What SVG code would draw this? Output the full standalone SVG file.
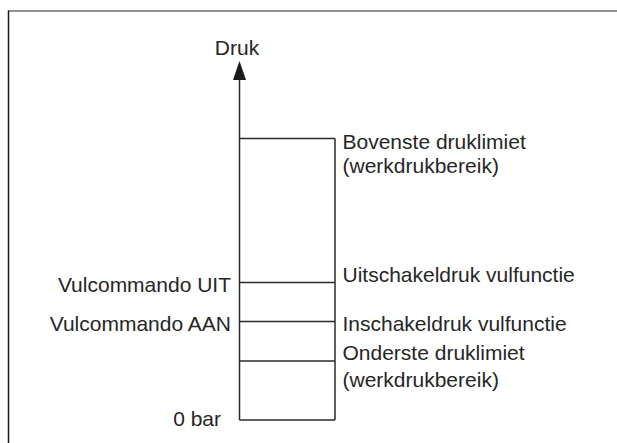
<svg xmlns="http://www.w3.org/2000/svg" width="617" height="443" viewBox="0 0 617 443">
<style>
.t{font-family:"Liberation Sans",Arial,sans-serif;font-size:21px;fill:#262626}
.ln{stroke:#2a2a2a;stroke-width:1.5;fill:none}
</style>
<defs>
<marker id="ah" markerWidth="13" markerHeight="19" refX="6.5" refY="0" orient="auto" markerUnits="userSpaceOnUse" viewBox="0 0 13 19">
<path d="M6.5,0 L13,19 L0,19 Z" fill="#1a1a1a"/>
</marker>
</defs>
<rect width="617" height="443" fill="#fff"/>
<g id="frame">
<line x1="8" y1="11" x2="617" y2="11" stroke="#6e6e6e" stroke-width="1.5"/>
<line x1="8.5" y1="10.5" x2="8.5" y2="443" stroke="#1a1a1a" stroke-width="1.5"/>
</g>
<g id="connectors">
<line class="ln" x1="239.5" y1="420" x2="239.5" y2="80"/>
<path d="M239.5,61 L246,80 L233,80 Z" fill="#1a1a1a"/>
<line class="ln" x1="335" y1="138.5" x2="335" y2="420"/>
<line class="ln" x1="239.5" y1="138.5" x2="335" y2="138.5"/>
<line class="ln" x1="239.5" y1="282.5" x2="335" y2="282.5"/>
<line class="ln" x1="239.5" y1="321.5" x2="335" y2="321.5"/>
<line class="ln" x1="239.5" y1="361" x2="335" y2="361"/>
<line class="ln" x1="239.5" y1="420" x2="335" y2="420"/>
</g>
<g id="axis-label"><text class="t" x="237" y="55" text-anchor="middle">Druk</text></g>
<g id="upper"><text class="t" x="342.5" y="148.5">Bovenste druklimiet</text><text class="t" x="342.5" y="173">(werkdrukbereik)</text></g>
<g id="uit"><text class="t" x="231" y="292" text-anchor="end">Vulcommando UIT</text><text class="t" x="342.5" y="282">Uitschakeldruk vulfunctie</text></g>
<g id="aan"><text class="t" x="231" y="331" text-anchor="end">Vulcommando AAN</text><text class="t" x="342.5" y="331">Inschakeldruk vulfunctie</text></g>
<g id="lower"><text class="t" x="342.5" y="359.5">Onderste druklimiet</text><text class="t" x="342.5" y="386.5">(werkdrukbereik)</text></g>
<g id="zero"><text class="t" x="221" y="425.5" text-anchor="end">0 bar</text></g>
</svg>
